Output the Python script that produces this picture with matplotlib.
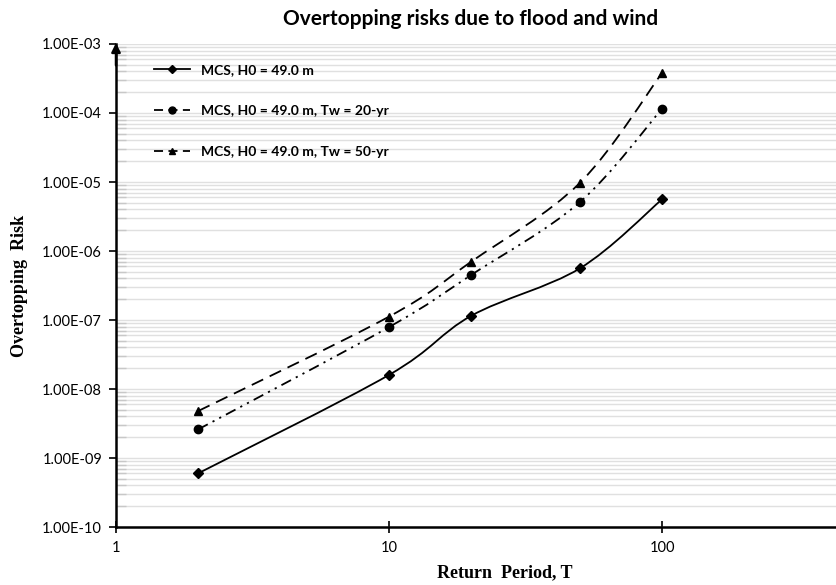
import numpy as np
import matplotlib
matplotlib.use("Agg")
import matplotlib.pyplot as plt
from matplotlib.path import Path
from matplotlib.patches import PathPatch
from matplotlib.lines import Line2D
from matplotlib.ticker import (FuncFormatter, NullLocator,
                               FixedLocator, NullFormatter)

# Data
return_period = [2, 10, 20, 50, 100]
risk_flood = [6.0e-10, 1.6e-8, 1.15e-7, 5.6e-7, 5.6e-6]
risk_tw20 = [2.6e-9, 7.9e-8, 4.5e-7, 5.1e-6, 1.15e-4]
risk_tw50 = [4.8e-9, 1.12e-7, 7.0e-7, 9.7e-6, 3.8e-4]
series_labels = ["MCS, H0 = 49.0 m",
                 "MCS, H0 = 49.0 m, Tw = 20-yr",
                 "MCS, H0 = 49.0 m, Tw = 50-yr"]
x_ticks = [1, 10, 100]
y_ticks = [1e-10, 1e-9, 1e-8, 1e-7, 1e-6, 1e-5, 1e-4, 1e-3]


def smooth_path(xs, ys):
    # Excel-style smoothed line: Catmull-Rom bezier in log-log space
    lx, ly = np.log10(xs), np.log10(ys)
    n = len(lx)
    verts = [(lx[0], ly[0])]
    codes = [Path.MOVETO]
    for i in range(n - 1):
        p0 = i - 1 if i > 0 else i
        p3 = i + 2 if i + 2 < n else i + 1
        c1 = (lx[i] + (lx[i + 1] - lx[p0]) / 6, ly[i] + (ly[i + 1] - ly[p0]) / 6)
        c2 = (lx[i + 1] - (lx[p3] - lx[i]) / 6, ly[i + 1] - (ly[p3] - ly[i]) / 6)
        verts += [c1, c2, (lx[i + 1], ly[i + 1])]
        codes += [Path.CURVE4] * 3
    return Path(10 ** np.array(verts), codes)


fig = plt.figure(figsize=(8.37, 5.85), dpi=100)
ax = fig.add_axes([0.1386, 0.0991, 0.8614, 0.8257])

ax.set_xscale("log")
ax.set_yscale("log")
ax.set_xlim(1, 10 ** ((837 - 116) / 273))
ax.set_ylim(1e-10, 1e-3)

styles = [
    dict(ls="-", marker="D", ms=5),
    dict(ls=(0, (6, 3, 1.2, 3, 1.2, 3)), marker="o", ms=6),
    dict(ls=(0, (7, 4)), marker="^", ms=6),
]
for ys, st in zip([risk_flood, risk_tw20, risk_tw50], styles):
    patch = PathPatch(smooth_path(return_period, ys), fill=False,
                      edgecolor="black", lw=1.3, ls=st["ls"], zorder=3)
    ax.add_patch(patch)
    ax.plot(return_period, ys, ls="none", marker=st["marker"], ms=st["ms"],
            color="black", zorder=4)

# legend with proxy handles
handles = [
    Line2D([], [], color="black", lw=1.3, ls="-", marker="D", ms=4.5),
    Line2D([], [], color="black", lw=1.3, ls=(0, (5, 3)), marker="o", ms=5),
    Line2D([], [], color="black", lw=1.3, ls=(0, (5, 3)), marker="^", ms=5),
]
ax.legend(handles, series_labels, loc="upper left", bbox_to_anchor=(0.035, 0.985),
          frameon=False, handlelength=2.6, labelspacing=2.1,
          prop=dict(family="Lato", weight="bold", size=10))

# grid and axes styling
minor_y = [m * t for t in y_ticks[:-1] for m in range(2, 10)]
ax.yaxis.set_major_locator(FixedLocator(y_ticks))
ax.yaxis.set_minor_locator(FixedLocator(minor_y))
ax.yaxis.set_major_formatter(FuncFormatter(lambda v, p: f"{v:.2E}"))
ax.yaxis.set_minor_formatter(NullFormatter())
ax.xaxis.set_major_locator(FixedLocator(x_ticks))
ax.xaxis.set_major_formatter(FuncFormatter(lambda v, p: f"{v:g}"))
ax.xaxis.set_minor_locator(NullLocator())

ax.grid(True, axis="y", which="both", color="#e0e0e0", lw=1.0, zorder=0)
ax.set_axisbelow(True)

for s in ["top", "right"]:
    ax.spines[s].set_visible(False)
for s in ["left", "bottom"]:
    ax.spines[s].set_linewidth(1.8)
    ax.spines[s].set_color("black")

ax.tick_params(axis="y", which="major", direction="out", length=5, width=1.2,
               labelsize=10.5, pad=5)
ax.tick_params(axis="y", which="minor", direction="in", length=7, width=1,
               color="#c8c8c8")
ax.tick_params(axis="x", which="major", direction="inout", length=8, width=1.2,
               labelsize=10.5, pad=6)
for lbl in ax.get_xticklabels() + ax.get_yticklabels():
    lbl.set_family("Lato")

# arrow at the top of the y axis
ax.annotate("", xy=(0, 1.008), xytext=(0, 0.95), xycoords="axes fraction",
            arrowprops=dict(arrowstyle="-|>", color="black", lw=1.8,
                            mutation_scale=13))

ax.set_xlabel("Return  Period, T", family="Liberation Serif", weight="bold",
              fontsize=13, va="center")
ax.xaxis.set_label_coords((505 - 116) / 721, (527 - 573) / 483)
ax.set_ylabel("Overtopping  Risk", family="Liberation Serif", weight="bold",
              fontsize=13, va="center")
ax.yaxis.set_label_coords((19 - 116) / 721, 0.5)
fig.text(0.562, 0.968, "Overtopping risks due to flood and wind", ha="center",
         va="center", family="Lato", weight="bold", fontsize=15)

fig.savefig("out.png", dpi=100)
